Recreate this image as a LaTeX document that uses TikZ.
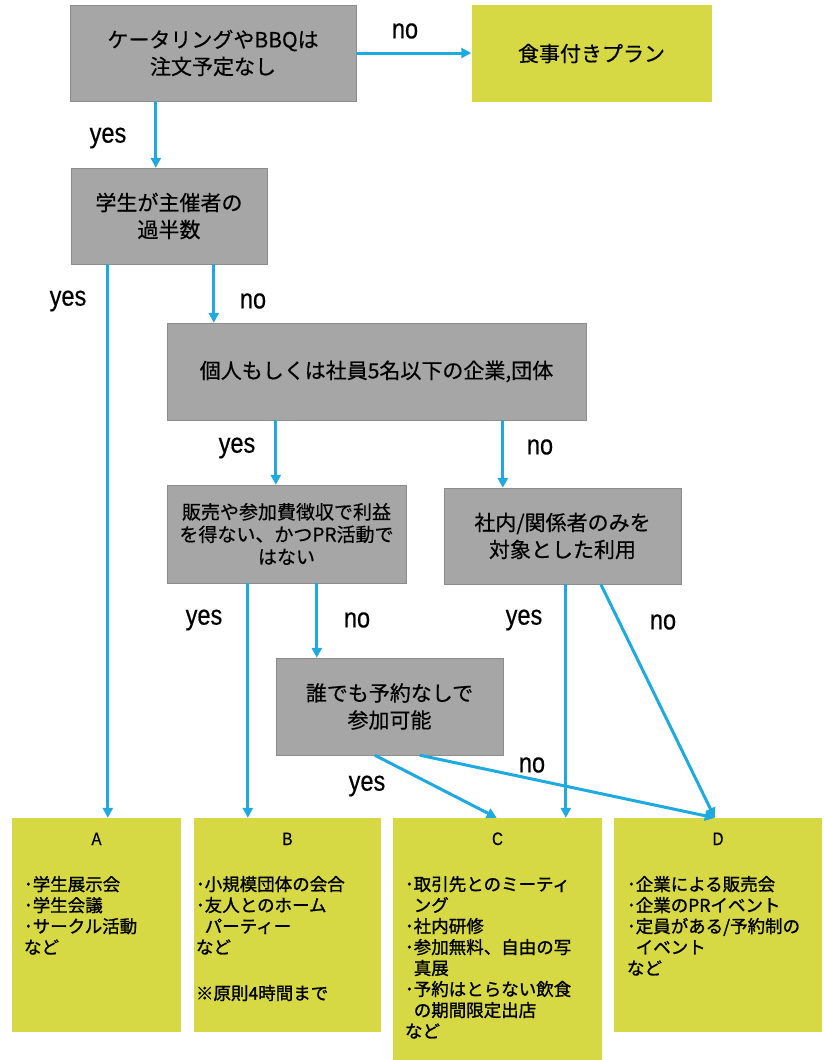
\documentclass[tikz,border=0pt]{standalone}
\usepackage{fontspec}
\setmainfont{Noto Sans CJK JP}[FakeBold=0.5]
\newfontfamily\listfont{Noto Sans CJK JP}[FakeBold=1.2]
\newfontfamily\yesnofont{Liberation Sans}[FakeStretch=0.84,FakeBold=0.5]
\usetikzlibrary{arrows.meta}
\definecolor{boxgray}{RGB}{166,166,166}
\definecolor{boxline}{RGB}{140,140,140}
\definecolor{boxlime}{RGB}{214,217,68}
\definecolor{flowblue}{RGB}{30,170,225}

\begin{document}
\begin{tikzpicture}[x=1pt,y=-1pt,
  question/.style={draw=boxline,fill=boxgray,align=center,inner sep=0pt,font=\fontsize{21}{27}\selectfont},
  answer/.style={fill=boxlime,inner sep=0pt},
  flow/.style={draw=flowblue,line width=3pt,-{Triangle[length=10pt,width=10pt]}},
  yesno/.style={inner sep=0pt,font=\yesnofont\fontsize{28}{28}\selectfont},
  planname/.style={inner sep=0pt,font=\yesnofont\fontsize{18}{18}\selectfont},
  itemlist/.style={align=left,inner sep=0pt,anchor=north west,font=\listfont\fontsize{17.5}{21}\selectfont}]
\useasboundingbox (0,0) rectangle (824,1060);

\node[question,minimum width=286,minimum height=96] (catering) at (213,53) {ケータリングやBBQは\\注文予定なし};
\node[answer,minimum width=240,minimum height=97,font=\fontsize{21}{27}\selectfont] (meal) at (591.5,53.5) {食事付きプラン};
\node[question,minimum width=196,minimum height=96] (student) at (169,216) {学生が主催者の\\過半数};
\node[question,minimum width=419,minimum height=97] (small) at (376.5,371.5) {個人もしくは社員5名以下の企業,団体};
\node[question,minimum width=239,minimum height=98,font=\fontsize{19}{22.5}\selectfont] (profit) at (286.5,534) {販売や参加費徴収で利益\\を得ない、かつPR活動で\\はない};
\node[question,minimum width=237,minimum height=96] (internal) at (562.5,536) {社内/関係者のみを\\対象とした利用};
\node[question,minimum width=227,minimum height=97] (open) at (389.5,706.5) {誰でも予約なしで\\参加可能};

\node[answer,minimum width=169,minimum height=214] (planA) at (96.5,925) {};
\node[answer,minimum width=187,minimum height=214] (planB) at (287.5,925) {};
\node[answer,minimum width=209,minimum height=242] (planC) at (497.5,939) {};
\node[answer,minimum width=208,minimum height=214] (planD) at (718,925) {};

\node[planname] (nameA) at ([yshift=-21]planA.north) {A};
\node[planname] (nameB) at ([yshift=-21]planB.north) {B};
\node[planname] (nameC) at ([yshift=-21]planC.north) {C};
\node[planname] (nameD) at ([yshift=-21]planD.north) {D};

\node[itemlist] (listA) at ([xshift=12,yshift=-58]planA.north west) {･学生展示会\\･学生会議\\･サークル活動\\など};
\node[itemlist] (listB) at ([xshift=2,yshift=-58]planB.north west) {･小規模団体の会合\\･友人とのホーム\\\phantom{･}パーティー\\など\\[25pt]※原則4時間まで};
\node[itemlist] (listC) at ([xshift=12,yshift=-58]planC.north west) {･取引先とのミーティ\\\phantom{･}ング\\･社内研修\\･参加無料、自由の写\\\phantom{･}真展\\･予約はとらない飲食\\\phantom{･}の期間限定出店\\など};
\node[itemlist] (listD) at ([xshift=13,yshift=-58]planD.north west) {･企業による販売会\\･企業のPRイベント\\･定員がある/予約制の\\\phantom{･}イベント\\など};

\draw[flow] (catering.east) -- (catering.east -| meal.west);
\draw[flow] ([xshift=86]catering.south west) -- ([xshift=86]catering.south west |- student.north);
\draw[flow] ([xshift=37]student.south west) -- ([xshift=37]student.south west |- planA.north);
\draw[flow] ([xshift=143]student.south west) -- ([xshift=143]student.south west |- small.north);
\draw[flow] ([xshift=109]small.south west) -- ([xshift=109]small.south west |- profit.north);
\draw[flow] ([xshift=336]small.south west) -- ([xshift=336]small.south west |- internal.north);
\draw[flow] ([xshift=81]profit.south west) -- ([xshift=81]profit.south west |- planB.north);
\draw[flow] ([xshift=150]profit.south west) -- ([xshift=150]profit.south west |- open.north);
\draw[flow] ([xshift=122]internal.south west) -- ([xshift=122]internal.south west |- planC.north);
\draw[flow] ([xshift=157]internal.south west) -- ([xshift=101]planD.north west);
\draw[flow] ([xshift=99]open.south west) -- ([xshift=104]planC.north west);
\draw[flow] ([xshift=144]open.south west) -- ([xshift=101]planD.north west);

\node[yesno] (no1) at (405,31) {no};
\node[yesno] (yes1) at (108,138) {yes};
\node[yesno] (yes2) at (68,301) {yes};
\node[yesno] (no2) at (253,301) {no};
\node[yesno] (yes3) at (237,448) {yes};
\node[yesno] (no3) at (540,447) {no};
\node[yesno] (yes4) at (204,620) {yes};
\node[yesno] (no4) at (357,620) {no};
\node[yesno] (yes5) at (524,620) {yes};
\node[yesno] (no5) at (663,622) {no};
\node[yesno] (no6) at (532,765) {no};
\node[yesno] (yes6) at (367,786) {yes};
\end{tikzpicture}
\end{document}
